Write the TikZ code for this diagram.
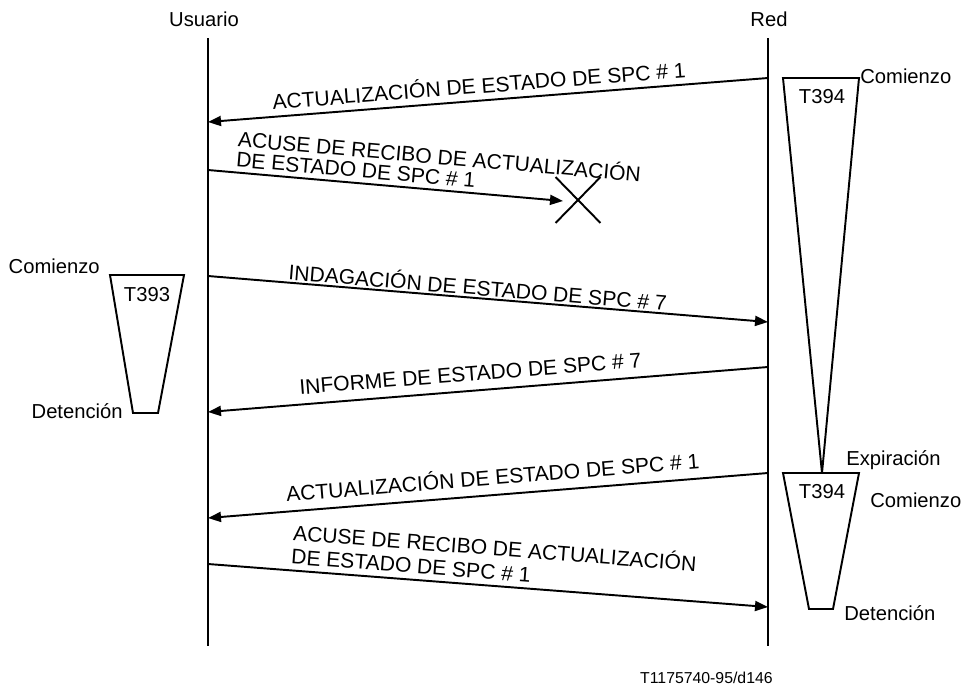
\documentclass[tikz,border=0pt]{standalone}
\usepackage{fontspec}
\setmainfont{Liberation Sans}
\usetikzlibrary{arrows.meta,shapes.misc}

\begin{document}
\begin{tikzpicture}[x=0.02cm, y=-0.02cm,
    life/.style={line width=1.6pt},
    msg/.style={line width=1.1pt, -{Triangle[length=0.26cm, width=0.2cm]}},
    back/.style={line width=1.1pt, {Triangle[length=0.26cm, width=0.2cm]}-},
    lbl/.style={font=\fontsize{12}{13}\selectfont, sloped, above, inner xsep=0pt},
    timer/.style={line width=1.1pt, line join=miter},
    tag/.style={font=\fontsize{11.5}{13}\selectfont, inner sep=0pt},
  ]
  \useasboundingbox (0,0) rectangle (964,687);
  \node[tag, anchor=base] (usuario) at (204,26) {Usuario};
  \node[tag, anchor=base] (red) at (769,26) {Red};
  \coordinate (utop) at (208,38);
  \coordinate (ubot) at (208,646);
  \coordinate (rtop) at (768,38);
  \coordinate (rbot) at (768,646);
  \draw[life] (utop) -- (ubot);
  \draw[life] (rtop) -- (rbot);

  \coordinate (u1) at (208,122);
  \coordinate (r1) at (768,78);
  \coordinate (u2) at (208,170);
  \coordinate (lost) at (563,201);
  \coordinate (u3) at (208,276);
  \coordinate (r3) at (768,322);
  \coordinate (u4) at (208,412);
  \coordinate (r4) at (768,367);
  \coordinate (u5) at (208,518);
  \coordinate (r5) at (768,473);
  \coordinate (u6) at (208,564);
  \coordinate (r6) at (768,607);

  \draw[back] (u1) -- node[lbl, pos=0.486, inner ysep=3.5pt] (m1) {ACTUALIZACIÓN DE ESTADO DE SPC \# 1} (r1);
  \draw[msg] (u2) -- node[lbl, pos=0.644, inner ysep=2.5pt, align=left, font=\fontsize{12}{11.5}\selectfont] (m2) {ACUSE DE RECIBO DE ACTUALIZACIÓN\\DE ESTADO DE SPC \# 1} (lost);
  \node[cross out, draw, line width=1.1pt, minimum width=0.86cm, minimum height=0.88cm, inner sep=0pt] (lostx) at (578,200) {};
  \draw[msg] (u3) -- node[lbl, pos=0.48, inner ysep=1pt] (m3) {INDAGACIÓN DE ESTADO DE SPC \# 7} (r3);
  \draw[back] (u4) -- node[lbl, pos=0.471, inner ysep=5pt] (m4) {INFORME DE ESTADO DE SPC \# 7} (r4);
  \draw[back] (u5) -- node[lbl, pos=0.511, inner ysep=5pt] (m5) {ACTUALIZACIÓN DE ESTADO DE SPC \# 1} (r5);
  \draw[msg] (u6) -- node[lbl, pos=0.507, inner ysep=3pt, align=left, font=\fontsize{12}{13.5}\selectfont] (m6) {ACUSE DE RECIBO DE ACTUALIZACIÓN\\DE ESTADO DE SPC \# 1} (r6);

  \draw[timer] (783,78) -- (859,78) -- (822,473) -- cycle;
  \draw[timer] (783,473) -- (859,473) -- (833,609) -- (809,609) -- cycle;
  \draw[timer] (110,275) -- (184,275) -- (158,413) -- (133,413) -- cycle;
  \node[tag] (t394a) at (822,97) {T394};
  \node[tag] (t394b) at (822,492) {T394};
  \node[tag] (t393) at (147,295) {T393};

  \node[tag, anchor=west] (start394a) at (860,76) {Comienzo};
  \node[tag, anchor=base west] (exp394) at (846,465) {Expiración};
  \node[tag, anchor=base west] (start394b) at (870,507) {Comienzo};
  \node[tag, anchor=base west] (stop394) at (844,620) {Detención};
  \node[tag, anchor=base east] (start393) at (100,273) {Comienzo};
  \node[tag, anchor=base east] (stop393) at (123,418) {Detención};

  \node[tag, anchor=base east, font=\fontsize{9}{11}\selectfont] (ref) at (773,683) {T1175740-95/d146};
\end{tikzpicture}
\end{document}
